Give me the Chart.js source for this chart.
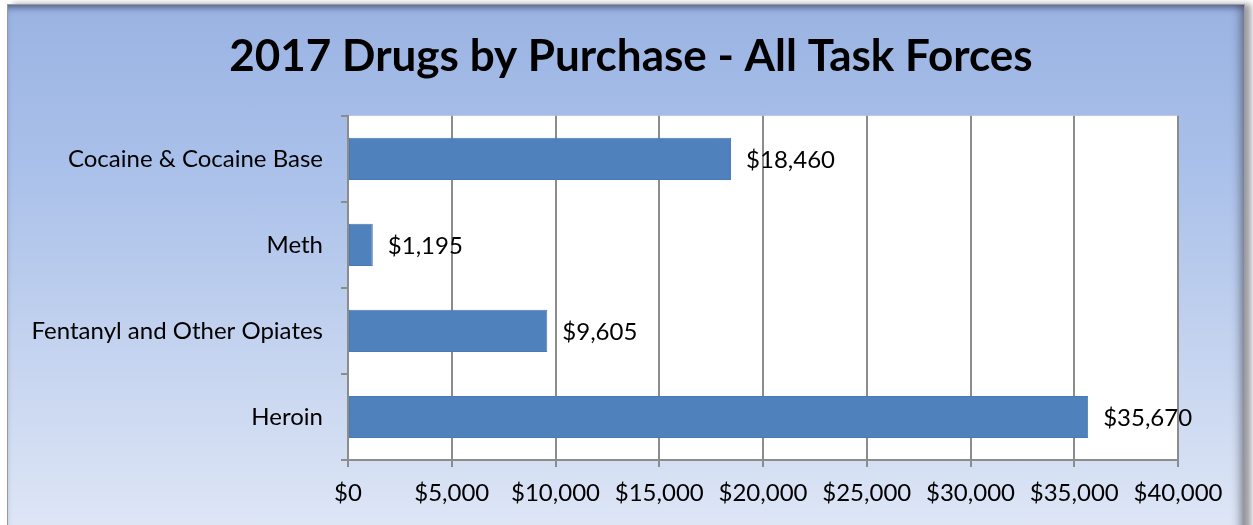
<!DOCTYPE html>
<html>
<head>
<meta charset="utf-8">
<script src="https://cdn.jsdelivr.net/npm/chart.js@4/dist/chart.umd.min.js"></script>
<style>
    html, body { margin: 0; padding: 0; background: #ffffff; }
    #frame {
        position: absolute; left: 7px; top: 4px; width: 1236px; height: 530px;
        background: linear-gradient(180deg, #9bb3e2 0%, #a9c0ea 30%, #c4d3ef 65%, #dfe7f6 100%);
        border: 1px solid #9a9a9a;
        box-shadow: inset 0 6px 6px -3px rgba(40, 50, 80, 0.55), inset -8px 0 8px -4px rgba(60, 60, 70, 0.5), 6px 0 6px rgba(90, 90, 100, 0.6);
    }
    #wrap { position: absolute; left: 0; top: 0; width: 1253px; height: 525px; }
</style>
</head>
<body>
<div id="frame"></div>
<div id="wrap"><canvas id="drugChart" width="1253" height="525"></canvas></div>
<script>
const chartTitle = '2017 Drugs by Purchase - All Task Forces';
const drugLabels = ['Cocaine & Cocaine Base', 'Meth', 'Fentanyl and Other Opiates', 'Heroin'];
const purchaseValues = [18460, 1195, 9605, 35670];
const axisMax = 40000;
const axisStep = 5000;

const fontFamily = 'Lato, "Open Sans", sans-serif';
const fmtDollar = (v) => '$' + Number(v).toLocaleString('en-US');

const plotBackground = {
    id: 'plotBackground',
    beforeDraw(chart) {
        const { ctx, chartArea } = chart;
        ctx.save();
        ctx.fillStyle = '#ffffff';
        ctx.fillRect(chartArea.left, chartArea.top, chartArea.right - chartArea.left, chartArea.bottom - chartArea.top);
        ctx.restore();
    }
};

const valueLabels = {
    id: 'valueLabels',
    afterDatasetsDraw(chart) {
        const { ctx } = chart;
        const meta = chart.getDatasetMeta(0);
        ctx.save();
        ctx.font = '24px ' + fontFamily;
        ctx.fillStyle = '#000000';
        ctx.textBaseline = 'middle';
        ctx.textAlign = 'left';
        meta.data.forEach((bar, i) => {
            ctx.fillText(fmtDollar(purchaseValues[i]), bar.x + 15, bar.y + 1);
        });
        ctx.restore();
    }
};

new Chart(document.getElementById('drugChart').getContext('2d'), {
    type: 'bar',
    data: {
        labels: drugLabels,
        datasets: [{
            data: purchaseValues,
            backgroundColor: '#4f81bd',
            borderColor: '#4a7ab4',
            borderWidth: 1,
            borderSkipped: false,
            categoryPercentage: 1,
            barPercentage: 0.49
        }]
    },
    options: {
        indexAxis: 'y',
        responsive: false,
        animation: false,
        layout: { padding: { left: 9, right: 0, top: 0, bottom: 0 } },
        plugins: {
            legend: { display: false },
            tooltip: { enabled: false },
            title: {
                display: true,
                text: chartTitle,
                color: '#000000',
                font: { family: fontFamily, size: 44, weight: 'bold' },
                padding: { top: 30, bottom: 33 }
            }
        },
        scales: {
            x: {
                min: 0,
                max: axisMax,
                ticks: {
                    stepSize: axisStep,
                    callback: (v) => fmtDollar(v),
                    color: '#000000',
                    font: { family: fontFamily, size: 24 },
                    padding: 12,
                    maxRotation: 0
                },
                grid: { color: '#8c8c8c', lineWidth: 2, tickLength: 7 },
                border: { color: '#8c8c8c', width: 2 },
                afterFit: (s) => { s.height = 65; }
            },
            y: {
                ticks: {
                    color: '#000000',
                    font: { family: fontFamily, size: 24 },
                    padding: 18
                },
                grid: { display: true, drawOnChartArea: false, offset: true, color: '#8c8c8c', lineWidth: 2, tickLength: 7 },
                border: { color: '#8c8c8c', width: 2 },
                afterFit: (s) => { s.width = 339; }
            },
            // empty right-hand spacer so the plot ends where the reference does
            spacer: {
                type: 'linear',
                axis: 'y',
                position: 'right',
                ticks: { display: false },
                grid: { display: false },
                border: { display: false },
                afterFit: (s) => { s.width = 75; }
            }
        }
    },
    plugins: [plotBackground, valueLabels]
});
</script>
</body>
</html>
